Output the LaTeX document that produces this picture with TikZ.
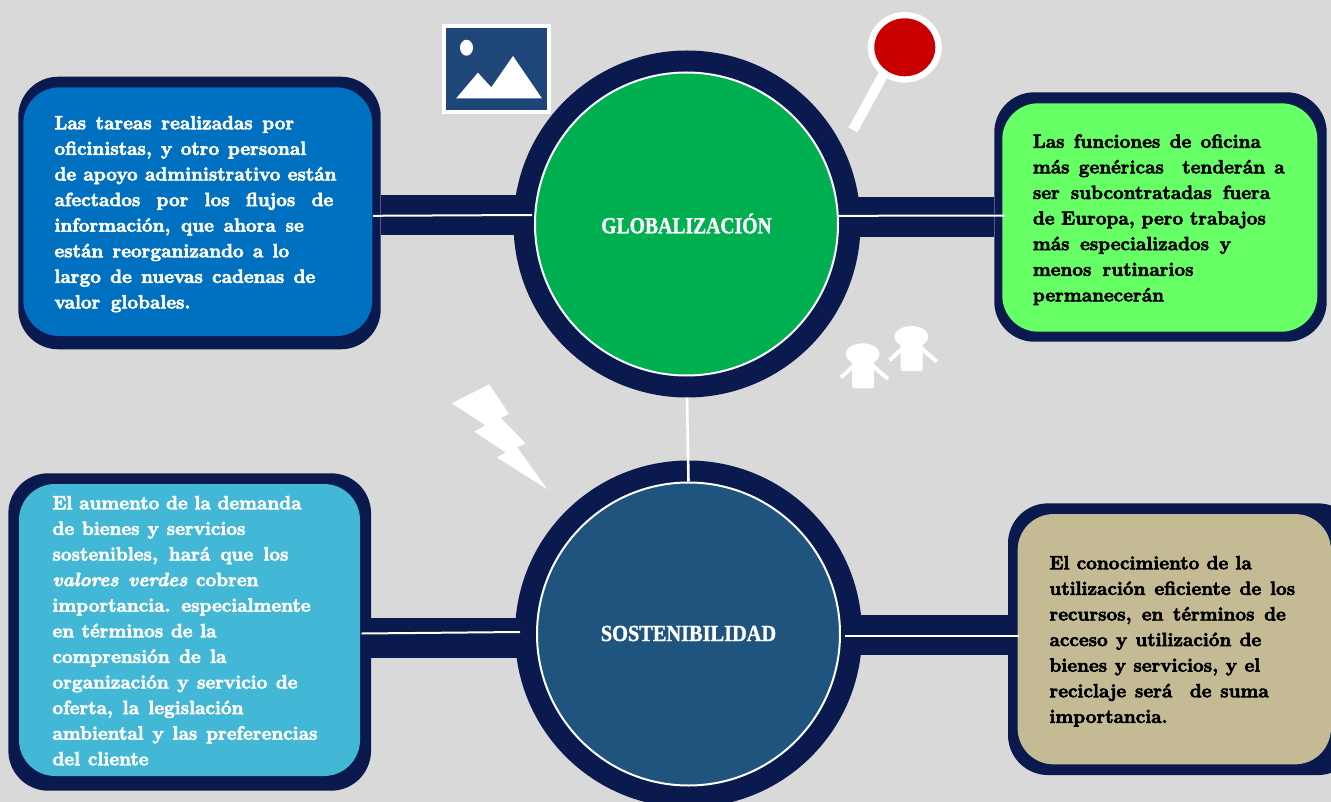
\documentclass[tikz,border=0pt]{standalone}
\usepackage{fontspec}
\setmainfont{Latin Modern Roman}[BoldFeatures={FakeBold=3.4},BoldItalicFeatures={FakeBold=3.4}]
\newfontfamily\titlefont{Liberation Serif}[BoldFeatures={FakeBold=1.2,FakeStretch=0.855}]
\newfontfamily\titlefontb{Liberation Serif}[BoldFeatures={FakeBold=1.2,FakeStretch=0.885}]
\definecolor{bgg}{HTML}{D9D9D9}
\definecolor{navy}{HTML}{0A1A4F}
\definecolor{cgreen}{HTML}{00B050}
\definecolor{cteal}{HTML}{1F547F}
\definecolor{cblue}{HTML}{0070C0}
\definecolor{clime}{HTML}{66FF66}
\definecolor{csky}{HTML}{43B8D6}
\definecolor{ctan}{HTML}{C4BB95}
\definecolor{cicon}{HTML}{1F4678}
\definecolor{cred}{HTML}{C80000}
\newcommand{\jl}[2]{\strut\makebox[#1pt][s]{#2}}
\tikzset{
  outerbox/.style={draw=none,fill=navy,rounded corners=40pt,inner sep=0pt},
  innerbox/.style={draw=none,rounded corners=36pt,inner sep=0pt},
  ring/.style={circle,draw=none,fill=navy,inner sep=0pt,minimum size=347pt},
  disc/.style={circle,draw=white,line width=2pt,inner sep=0pt,minimum size=303pt},
  bar/.style={draw=navy,line width=40pt},
  thinline/.style={draw=white,line width=2pt},
  boxtext/.style={anchor=north west,inner sep=0pt,align=left,font=\fontsize{19}{25.6}\selectfont\bfseries},
  titletext/.style={text=white,inner sep=0pt}
}
\begin{document}
\begin{tikzpicture}[x=1pt,y=-1pt]
\useasboundingbox (0,0) rectangle (1331,802);
\clip (0,0) rectangle (1331,802);
\fill[bgg] (0,0) rectangle (1331,802);
% outer shapes
\node[ring] (ringA) at (687,224) {};
\node[ring] (ringB) at (688.5,634) {};
\node[outerbox,minimum width=362.4pt,minimum height=272.6pt] (outA) at (199.5,213) {};
\node[outerbox,minimum width=332.4pt,minimum height=249.4pt] (outB) at (1160.5,217) {};
\node[outerbox,minimum width=362.7pt,minimum height=317.4pt] (outC) at (189.7,632) {};
\node[outerbox,minimum width=350pt,minimum height=271.7pt] (outD) at (1183,639.2) {};
% thick connectors
\coordinate (yA) at (0,215);
\coordinate (yB) at (0,217);
\coordinate (yC) at (0,637.7);
\coordinate (yD) at (0,635);
\draw[bar,shorten >=-6pt] (outA.east |- yA) -- (ringA.west |- yA);
\draw[bar,shorten >=-6pt] (outB.west |- yB) -- (ringA.east |- yB);
\draw[bar,shorten >=-6pt] (outC.east |- yC) -- (ringB.west |- yC);
\draw[bar,shorten >=-6pt] (outD.west |- yD) -- (ringB.east |- yD);
% inner shapes
\node[disc,fill=cgreen] (discA) at (686.5,224) {};
\node[disc,fill=cteal] (discB) at (688.5,634) {};
\node[innerbox,fill=cblue,minimum width=349pt,minimum height=248.7pt] (inA) at (197.8,211.7) {};
\node[innerbox,fill=clime,minimum width=315pt,minimum height=228.4pt] (inB) at (1159.8,217.5) {};
\node[innerbox,fill=csky,minimum width=341pt,minimum height=292pt] (inC) at (189.5,630) {};
\node[innerbox,fill=ctan,minimum width=313.3pt,minimum height=250.3pt] (inD) at (1174.3,639.2) {};
% thin connectors
\coordinate (wA1) at (373,215.8);
\coordinate (wA2) at (532,215);
\coordinate (wB1) at (838,215.8);
\coordinate (wB2) at (1005,215.6);
\coordinate (wC1) at (361.7,633.5);
\coordinate (wC2) at (520,632);
\coordinate (wD1) at (845,636);
\coordinate (wD2) at (1019,636);
\draw[thinline] (wA1) -- (wA2);
\draw[thinline] (wB1) -- (wB2);
\draw[thinline] (wC1) -- (wC2);
\draw[thinline] (wD1) -- (wD2);
\draw[thinline,line width=2.6pt] (ringA.south) -- (discB.north);
% titles
\node[titletext,font=\titlefont\fontsize{23}{26}\selectfont\bfseries] (tA) at (686.5,223.5) {GLOBALIZACIÓN};
\node[titletext,font=\titlefontb\fontsize{23}{26}\selectfont\bfseries] (tB) at (688.5,633.5) {SOSTENIBILIDAD};
% texts
\node[boxtext,text=white] (txA) at (54.3,111.1) {%
\jl{239.7}{Las tareas realizadas por}\\
\jl{251.7}{oficinistas, y otro personal}\\
\jl{282}{de apoyo administrativo están}\\
\jl{278.7}{afectados por los flujos de}\\
\jl{249.3}{información, que ahora se}\\
\jl{234.7}{están reorganizando a lo}\\
\jl{260.7}{largo de nuevas cadenas de}\\
\jl{136}{valor globales.}};
\node[boxtext,text=black] (txB) at (1032.7,129.6) {%
\jl{228}{Las funciones de oficina}\\
\jl{251.7}{más genéricas~ tenderán a}\\
\jl{237.3}{ser subcontratadas fuera}\\
\jl{233}{de Europa, pero trabajos}\\
\jl{198}{más especializados y}\\
\jl{160.7}{menos rutinarios}\\
\jl{133}{permanecerán}};
\node[boxtext,text=white] (txC) at (52.3,491.1) {%
\jl{249}{El aumento de la demanda}\\
\jl{193}{de bienes y servicios}\\
\jl{236}{sostenibles, hará que los}\\
\jl{206}{\textit{valores verdes} cobren}\\
\jl{258}{importancia. especialmente}\\
\jl{164}{en términos de la}\\
\jl{174}{comprensión de la}\\
\jl{245}{organización y servicio de}\\
\jl{191}{oferta, la legislación}\\
\jl{265}{ambiental y las preferencias}\\
\jl{96}{del cliente}};
\node[boxtext,text=black] (txD) at (1049.3,551.1) {%
\jl{202.3}{El conocimiento de la}\\
\jl{245.7}{utilización eficiente de los}\\
\jl{236.3}{recursos, en términos de}\\
\jl{211.7}{acceso y utilización de}\\
\jl{210.7}{bienes y servicios, y el}\\
\jl{219.3}{reciclaje será~ de suma}\\
\jl{116.7}{importancia.}};
% picture icon
\fill[white] (442,24) rectangle (551,114);
\fill[cicon] (446,28) rectangle (547,110);
\fill[white] (466.5,47.7) ellipse (6.5 and 8);
\fill[white] (456.2,98.3) -- (477.9,72.7) -- (491.3,87.3) -- (513,56) -- (541.9,98.3) -- cycle;
% magnifier
\draw[white,line width=10pt] (883,75) -- (853,130);
\fill[white] (904.8,47.3) ellipse (37 and 35.3);
\fill[cred] (904.8,47.3) ellipse (30.5 and 29);
% bolt
\fill[white] (451.7,403.3) -- (489.3,384.3) -- (509,414) -- (500.7,417.7) -- (525.3,443.3) -- (517.3,447.3) -- (547.3,489.3) -- (496.7,457.3) -- (506,452.7) -- (474.3,431.7) -- (485.3,425.3) -- cycle;
% people
\foreach \dx/\dy in {0/0,48.7/-17.3}{
  \begin{scope}[shift={(\dx,\dy)}]
    \fill[white] (862.7,354) ellipse (17 and 10.7);
    \fill[white,rounded corners=2pt] (852,358) rectangle (874,388.3);
    \draw[white,line width=4pt] (854,365.5) -- (841,377.5);
    \draw[white,line width=4pt] (872.5,365.5) -- (888,379);
  \end{scope}
}
\end{tikzpicture}
\end{document}
